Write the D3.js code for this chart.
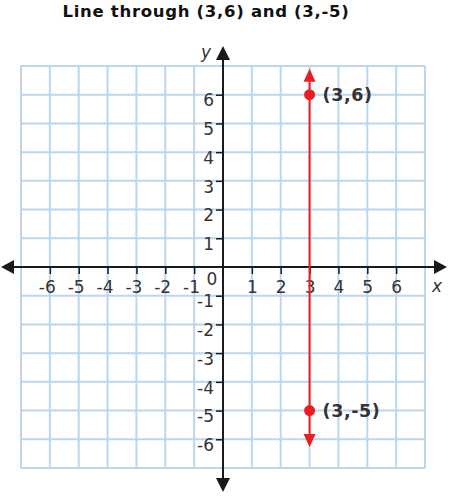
<!DOCTYPE html>
<html><head><meta charset="utf-8">
<script src="https://cdn.jsdelivr.net/npm/d3@7"></script>
<style>body{margin:0;background:#fff}svg{display:block}</style>
</head><body>
<svg id="c" width="455" height="500"></svg>
<script>
const title = "Line through (3,6) and (3,-5)";
const gridValues = d3.range(-7, 8);
const xTickValues = [-6,-5,-4,-3,-2,-1,1,2,3,4,5,6];
const yTickValues = [-6,-5,-4,-3,-2,-1,1,2,3,4,5,6];
const pointX = [3, 3];
const pointY = [6, -5];
const pointLabels = ["(3,6)", "(3,-5)"];
const lineYExtent = [-6.27, 6.9];

const svg = d3.select("#c");
const x = d3.scaleLinear().domain([-7, 7]).range([21, 425]);
const y = d3.scaleLinear().domain([-7, 7]).range([468, 66]);
const ox = x(0), oy = y(0);
const font = "'DejaVu Sans', Verdana, sans-serif";
const fmt = d => String(d);

// title
svg.append("text").attr("x", 206).attr("y", 17).attr("text-anchor", "middle")
  .attr("font-family", font).attr("font-weight", "bold").attr("font-size", 16.5)
  .attr("letter-spacing", 0.7).attr("fill", "#111").text(title);

// grid
const grid = svg.append("g").attr("stroke", "#bcd6ee").attr("stroke-width", 2);
grid.selectAll("line.v").data(gridValues).join("line").attr("class","v")
  .attr("x1", d => x(d)).attr("x2", d => x(d)).attr("y1", y(7)).attr("y2", y(-7));
grid.selectAll("line.h").data(gridValues).join("line").attr("class","h")
  .attr("y1", d => y(d)).attr("y2", d => y(d)).attr("x1", x(-7)).attr("x2", x(7));

// axes
const ax = svg.append("g");
ax.append("line").attr("x1", 8).attr("x2", 436).attr("y1", oy).attr("y2", oy)
  .attr("stroke", "#1a1a1a").attr("stroke-width", 2);
ax.append("line").attr("x1", ox).attr("x2", ox).attr("y1", 58).attr("y2", 480)
  .attr("stroke", "#1a1a1a").attr("stroke-width", 2);
// arrowheads
const tri = (pts, col) => svg.append("path").attr("d", "M" + pts.map(p => p.join(",")).join("L") + "Z").attr("fill", col);
tri([[1, oy], [14, oy - 7], [14, oy + 7]], "#1a1a1a");
tri([[447, oy], [434, oy - 7], [434, oy + 7]], "#1a1a1a");
tri([[ox, 46], [ox - 7, 60], [ox + 7, 60]], "#1a1a1a");
tri([[ox, 492], [ox - 7, 478], [ox + 7, 478]], "#1a1a1a");

// x ticks (digit centred on tick, minus sign hanging to the left)
const xAxis = d3.axisBottom(x).tickValues(xTickValues).tickSize(7).tickPadding(7).tickFormat(fmt);
const gx = svg.append("g").attr("transform", `translate(0,${oy})`).call(xAxis);
gx.select(".domain").remove();
gx.selectAll(".tick line").attr("stroke", "#1a1a1a").attr("stroke-width", 1.5);
gx.selectAll(".tick text").attr("font-family", font).attr("font-size", 17).attr("fill", "#333")
  .attr("text-anchor", "end").attr("x", 5.4);

// y ticks
const yAxis = d3.axisLeft(y).tickValues(yTickValues).tickSize(7).tickPadding(2).tickFormat(fmt);
const gy = svg.append("g").attr("transform", `translate(${ox},0)`).call(yAxis);
gy.select(".domain").remove();
gy.selectAll(".tick line").attr("stroke", "#1a1a1a").attr("stroke-width", 1.5);
gy.selectAll(".tick text").attr("font-family", font).attr("font-size", 17).attr("fill", "#333").attr("dy", "0.66em");

// origin label
svg.append("text").attr("x", ox - 11).attr("y", oy + 18).attr("text-anchor", "middle")
  .attr("font-family", font).attr("font-size", 17).attr("fill", "#333").text("0");
// axis names
svg.append("text").attr("x", 437).attr("y", 292).attr("text-anchor", "middle")
  .attr("font-family", font).attr("font-style", "italic").attr("font-size", 17).attr("fill", "#333").text("x");
svg.append("text").attr("x", 206).attr("y", 58).attr("text-anchor", "middle")
  .attr("font-family", font).attr("font-style", "italic").attr("font-size", 17).attr("fill", "#333").text("y");

// red line
const red = "#ea1c24";
svg.append("line").attr("x1", x(pointX[0])).attr("x2", x(pointX[0]))
  .attr("y1", y(lineYExtent[1]) + 6).attr("y2", y(lineYExtent[0]) - 6)
  .attr("stroke", red).attr("stroke-width", 2);
const lx = x(pointX[0]);
tri([[lx, y(lineYExtent[1])], [lx - 6, y(lineYExtent[1]) + 13], [lx + 6, y(lineYExtent[1]) + 13]], red);
tri([[lx, y(lineYExtent[0])], [lx - 6, y(lineYExtent[0]) - 13], [lx + 6, y(lineYExtent[0]) - 13]], red);

// points
const pts = pointX.map((d, i) => ({x: d, y: pointY[i], label: pointLabels[i]}));
svg.selectAll("circle.pt").data(pts).join("circle").attr("class","pt")
  .attr("cx", d => x(d.x)).attr("cy", d => y(d.y)).attr("r", 5.5).attr("fill", red);
svg.selectAll("text.pl").data(pts).join("text").attr("class","pl")
  .attr("x", d => x(d.x) + 13).attr("y", d => y(d.y) + 6.5)
  .attr("font-family", font).attr("font-weight", "bold").attr("font-size", 17.5)
  .attr("letter-spacing", 0.6).attr("fill", "#333").text(d => d.label);
</script>
</body></html>
